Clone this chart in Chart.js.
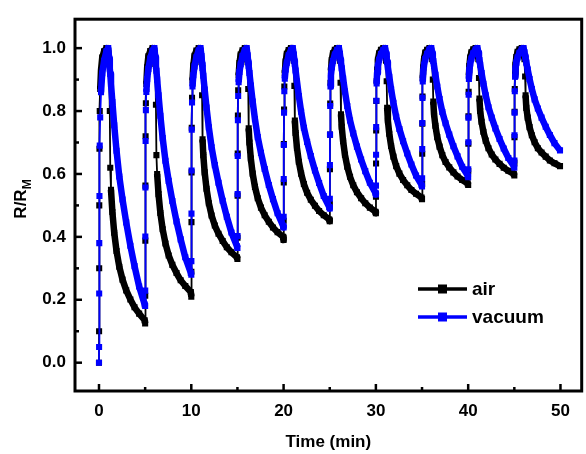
<!DOCTYPE html>
<html>
<head>
<meta charset="utf-8">
<script src="https://cdn.jsdelivr.net/npm/chart.js@4.4.1/dist/chart.umd.min.js"></script>
<style>
  html, body { margin: 0; padding: 0; background: #fff; }
  #wrap { width: 586px; height: 454px; }
</style>
</head>
<body>
<div id="wrap"><canvas id="chart" width="586" height="454"></canvas></div>
<script>
// ── Data ──
// each 5 min cycle: switch on at t0, peak ~1 min later, then relax
const cycleStarts = [0, 5, 10, 15, 20, 25, 30, 35, 40, 45];
const offsets = [0, 0.01, 0.02, 0.03, 0.05, 0.08, 0.13, 0.22, 0.35, 0.55, 0.8, 1.0, 1.1, 1.17, 1.22, 1.3, 1.45, 1.65, 1.9, 2.2, 2.55, 2.95, 3.4, 3.85, 4.35, 4.95];

const air = [
  [0, 0.1, 0.3, 0.5, 0.68, 0.8, 0.87, 0.93, 0.97, 0.99, 1.0, 0.99, 0.95, 0.8, 0.62, 0.55, 0.479, 0.413, 0.355, 0.305, 0.264, 0.23, 0.201, 0.176, 0.156, 0.135],
  [0.125, 0.213, 0.388, 0.563, 0.72, 0.825, 0.886, 0.939, 0.974, 0.991, 1.0, 0.99, 0.95, 0.82, 0.66, 0.6, 0.536, 0.476, 0.424, 0.379, 0.341, 0.311, 0.285, 0.262, 0.244, 0.225],
  [0.21, 0.289, 0.447, 0.605, 0.747, 0.842, 0.897, 0.945, 0.976, 0.992, 1.0, 0.99, 0.955, 0.85, 0.71, 0.66, 0.605, 0.553, 0.507, 0.468, 0.436, 0.41, 0.387, 0.367, 0.351, 0.335],
  [0.33, 0.397, 0.531, 0.665, 0.786, 0.866, 0.913, 0.953, 0.98, 0.993, 1.0, 0.99, 0.955, 0.87, 0.745, 0.7, 0.649, 0.601, 0.559, 0.523, 0.493, 0.469, 0.448, 0.43, 0.415, 0.4],
  [0.39, 0.451, 0.573, 0.695, 0.805, 0.878, 0.921, 0.957, 0.982, 0.994, 1.0, 0.99, 0.96, 0.88, 0.77, 0.73, 0.683, 0.639, 0.601, 0.568, 0.54, 0.518, 0.499, 0.482, 0.469, 0.455],
  [0.45, 0.505, 0.615, 0.725, 0.824, 0.89, 0.929, 0.962, 0.984, 0.995, 1.0, 0.99, 0.96, 0.89, 0.79, 0.75, 0.704, 0.661, 0.623, 0.591, 0.564, 0.542, 0.523, 0.507, 0.493, 0.48],
  [0.475, 0.528, 0.633, 0.738, 0.832, 0.895, 0.932, 0.963, 0.984, 0.995, 1.0, 0.99, 0.96, 0.895, 0.81, 0.77, 0.728, 0.689, 0.655, 0.625, 0.601, 0.581, 0.564, 0.549, 0.537, 0.525],
  [0.52, 0.568, 0.664, 0.76, 0.846, 0.904, 0.938, 0.966, 0.986, 0.995, 1.0, 0.99, 0.965, 0.9, 0.83, 0.79, 0.753, 0.717, 0.687, 0.66, 0.638, 0.621, 0.605, 0.592, 0.581, 0.57],
  [0.565, 0.609, 0.696, 0.783, 0.861, 0.913, 0.943, 0.97, 0.987, 0.996, 1.0, 0.99, 0.965, 0.905, 0.84, 0.8, 0.766, 0.734, 0.706, 0.682, 0.662, 0.646, 0.632, 0.62, 0.61, 0.6],
  [0.595, 0.636, 0.717, 0.798, 0.87, 0.919, 0.947, 0.972, 0.988, 0.996, 1.0, 0.99, 0.965, 0.91, 0.85, 0.81, 0.779, 0.749, 0.723, 0.701, 0.682, 0.668, 0.655, 0.643, 0.634, 0.625]
];

const vacuum = [
  [0, 0.05, 0.22, 0.38, 0.53, 0.69, 0.78, 0.86, 0.92, 0.96, 0.99, 1.0, 0.967, 0.935, 0.918, 0.886, 0.829, 0.755, 0.674, 0.592, 0.519, 0.446, 0.372, 0.307, 0.242, 0.185],
  [0.18, 0.229, 0.401, 0.557, 0.705, 0.803, 0.861, 0.902, 0.934, 0.967, 0.992, 1.0, 0.971, 0.943, 0.928, 0.9, 0.85, 0.785, 0.714, 0.642, 0.578, 0.514, 0.449, 0.392, 0.335, 0.285],
  [0.28, 0.323, 0.474, 0.611, 0.741, 0.827, 0.878, 0.914, 0.942, 0.971, 0.993, 1.0, 0.975, 0.95, 0.937, 0.912, 0.868, 0.811, 0.748, 0.685, 0.628, 0.572, 0.515, 0.464, 0.414, 0.37],
  [0.365, 0.403, 0.536, 0.657, 0.771, 0.848, 0.892, 0.924, 0.949, 0.975, 0.994, 1.0, 0.977, 0.955, 0.943, 0.921, 0.881, 0.83, 0.774, 0.717, 0.667, 0.616, 0.565, 0.52, 0.475, 0.435],
  [0.43, 0.464, 0.584, 0.692, 0.795, 0.863, 0.903, 0.932, 0.954, 0.977, 0.994, 1.0, 0.98, 0.96, 0.949, 0.929, 0.894, 0.848, 0.798, 0.747, 0.702, 0.657, 0.611, 0.571, 0.53, 0.495],
  [0.49, 0.521, 0.628, 0.725, 0.816, 0.878, 0.913, 0.939, 0.959, 0.98, 0.995, 1.0, 0.982, 0.963, 0.954, 0.936, 0.903, 0.862, 0.816, 0.77, 0.729, 0.687, 0.646, 0.609, 0.572, 0.54],
  [0.535, 0.563, 0.661, 0.749, 0.833, 0.888, 0.921, 0.944, 0.963, 0.981, 0.995, 1.0, 0.983, 0.965, 0.956, 0.939, 0.909, 0.869, 0.826, 0.782, 0.743, 0.704, 0.665, 0.63, 0.595, 0.565],
  [0.56, 0.586, 0.679, 0.762, 0.842, 0.894, 0.925, 0.947, 0.965, 0.982, 0.996, 1.0, 0.984, 0.968, 0.959, 0.943, 0.915, 0.878, 0.838, 0.797, 0.761, 0.725, 0.688, 0.656, 0.623, 0.595],
  [0.59, 0.615, 0.701, 0.779, 0.852, 0.902, 0.93, 0.951, 0.967, 0.984, 0.996, 1.0, 0.985, 0.97, 0.962, 0.947, 0.921, 0.887, 0.85, 0.812, 0.779, 0.745, 0.711, 0.681, 0.651, 0.625],
  [0.62, 0.643, 0.723, 0.795, 0.863, 0.909, 0.935, 0.954, 0.97, 0.985, 0.996, 1.0, 0.987, 0.974, 0.967, 0.954, 0.932, 0.902, 0.87, 0.837, 0.808, 0.779, 0.75, 0.724, 0.698, 0.675]
];

const xTicks = [0, 10, 20, 30, 40, 50];
const xMinor = [5, 15, 25, 35, 45];
const yTicks = [0, 0.2, 0.4, 0.6, 0.8, 1.0];
const yMinor = [0.1, 0.3, 0.5, 0.7, 0.9];

// ── Build points ──
function toPoints(series) {
  const pts = [];
  cycleStarts.forEach((t0, c) => {
    offsets.forEach((dt, i) => pts.push({ x: +(t0 + dt).toFixed(2), y: series[c][i] }));
  });
  return pts;
}

// dense (slow) stretches look like a thick band of markers, fast jumps stay thin
const segWidth = (ctx) => {
  const dt = ctx.p1.parsed.x - ctx.p0.parsed.x;
  const dy = ctx.p1.parsed.y - ctx.p0.parsed.y;
  return Math.abs(dy / dt) < 0.7 ? 6.5 : 1.8;
};

const FONT = '"Liberation Sans", Arial, sans-serif';

function makeSet(label, series, color, order) {
  return {
    label,
    data: toPoints(series),
    borderColor: color,
    backgroundColor: color,
    borderWidth: 1.8,
    borderJoinStyle: "round",
    pointStyle: "rect",
    pointRadius: 4.3,
    pointBorderWidth: 0,
    pointBackgroundColor: color,
    order,
    segment: { borderWidth: segWidth }
  };
}

// ── Frame, inward ticks, titles and legend ──
const framePlugin = {
  id: "frame",
  afterDraw(chart) {
    const { ctx, chartArea: a, scales: { x, y } } = chart;
    ctx.save();
    ctx.strokeStyle = "#000";
    ctx.fillStyle = "#000";
    ctx.lineWidth = 2.5;
    const seg = (x1, y1, x2, y2) => {
      ctx.beginPath();
      ctx.moveTo(x1, y1);
      ctx.lineTo(x2, y2);
      ctx.stroke();
    };
    xTicks.forEach((v) => { const p = x.getPixelForValue(v); seg(p, a.bottom, p, a.bottom - 7); });
    xMinor.forEach((v) => { const p = x.getPixelForValue(v); seg(p, a.bottom, p, a.bottom - 4); });
    yTicks.forEach((v) => { const p = y.getPixelForValue(v); seg(a.left, p, a.left + 7, p); });
    yMinor.forEach((v) => { const p = y.getPixelForValue(v); seg(a.left, p, a.left + 4, p); });
    ctx.lineWidth = 3;
    ctx.strokeRect(a.left, a.top, a.right - a.left, a.bottom - a.top);

    // axis titles
    ctx.font = "bold 17px " + FONT;
    ctx.textAlign = "center";
    ctx.textBaseline = "alphabetic";
    ctx.fillText("Time (min)", (a.left + a.right) / 2, 447);

    ctx.save();
    ctx.translate(26, 199);
    ctx.rotate(-Math.PI / 2);
    ctx.textAlign = "left";
    const w1 = ctx.measureText("R/R").width;
    ctx.font = "bold 12px " + FONT;
    const w2 = ctx.measureText("M").width;
    const sx = -(w1 + w2) / 2;
    ctx.font = "bold 17px " + FONT;
    ctx.fillText("R/R", sx, 0);
    ctx.font = "bold 12px " + FONT;
    ctx.fillText("M", sx + w1, 5);
    ctx.restore();

    // legend: line - square - line, then label
    ctx.textAlign = "left";
    ctx.textBaseline = "middle";
    ctx.font = "bold 19px " + FONT;
    chart.data.datasets.forEach((ds, i) => {
      const ly = 289 + i * 28;
      ctx.strokeStyle = ds.borderColor;
      ctx.fillStyle = ds.borderColor;
      ctx.lineWidth = 3.5;
      seg(418, ly, 467, ly);
      ctx.fillRect(438, ly - 4.5, 9, 9);
      ctx.fillStyle = "#000";
      ctx.fillText(ds.label, 472, ly + 1);
    });
    ctx.restore();
  }
};

new Chart(document.getElementById("chart"), {
  type: "line",
  data: {
    datasets: [
      makeSet("air", air, "#000000", 2),
      makeSet("vacuum", vacuum, "#0000ff", 1)
    ]
  },
  options: {
    responsive: false,
    animation: false,
    devicePixelRatio: 1,
    layout: { padding: { top: 13, right: 4, left: 0, bottom: 0 } },
    plugins: { legend: { display: false }, tooltip: { enabled: false } },
    scales: {
      x: {
        type: "linear",
        min: -2.6,
        max: 52.3,
        afterBuildTicks: (s) => { s.ticks = xTicks.map((v) => ({ value: v })); },
        afterFit: (s) => { s.height = 63; },
        grid: { display: false, drawTicks: false },
        border: { display: false },
        ticks: { padding: 10, color: "#000", font: { family: FONT, size: 17, weight: "bold" }, maxRotation: 0 }
      },
      y: {
        type: "linear",
        min: -0.09,
        max: 1.092,
        afterBuildTicks: (s) => { s.ticks = yTicks.map((v) => ({ value: v })); },
        afterFit: (s) => { s.width = 75; },
        grid: { display: false, drawTicks: false },
        border: { display: false },
        ticks: {
          padding: 9,
          color: "#000",
          font: { family: FONT, size: 17, weight: "bold" },
          callback: (v) => Number(v).toFixed(1)
        }
      }
    }
  },
  plugins: [framePlugin]
});
</script>
</body>
</html>
